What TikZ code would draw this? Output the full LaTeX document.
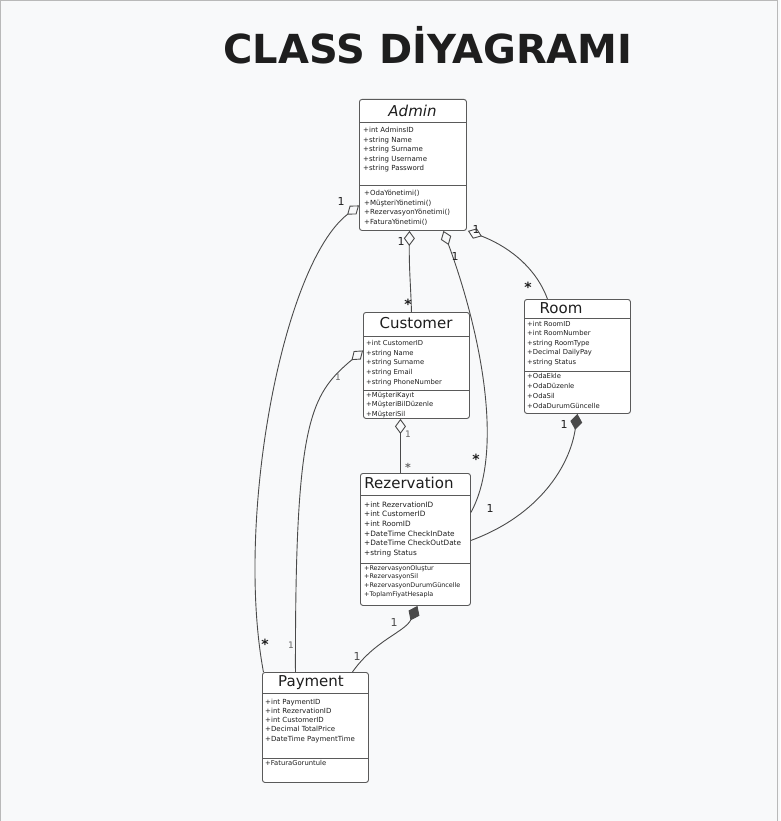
\documentclass[tikz,border=0pt]{standalone}
\usepackage{fontspec}
\setmainfont{DejaVu Sans}
\usetikzlibrary{arrows.meta}
\definecolor{bg}{HTML}{F8F9FA}
\definecolor{ln}{HTML}{4A4A4A}
\definecolor{bx}{HTML}{5A5A5A}
\definecolor{tx}{HTML}{1E1E1E}
\definecolor{lb}{HTML}{666666}
\begin{document}
\begin{tikzpicture}[x=1pt,y=-1pt,
  classbox/.style={draw=bx, fill=white, rounded corners=2.5pt, line width=0.9pt, inner sep=0, anchor=north west},
  sepline/.style={draw=bx, line width=0.7pt},
  ctitle/.style={font=\fontsize{15}{15}\selectfont, text=tx, inner sep=0},
  attr/.style={anchor=north west, inner sep=0, align=left, text=tx},
  conn/.style={draw=ln, line width=0.9pt},
  agg/.style={{Diamond[open,length=15pt,width=11pt,line width=0.9pt]}-},
  comp/.style={{Diamond[length=16pt,width=12pt]}-},
  mult/.style={font=\fontsize{11}{11}\selectfont, text=tx, inner sep=0},
  star/.style={font=\bfseries\fontsize{14}{14}\selectfont, text=tx, inner sep=0, yshift=-3pt},
  multg/.style={font=\fontsize{9}{9}\selectfont, text=lb, inner sep=0},
  starg/.style={font=\bfseries\fontsize{11}{11}\selectfont, text=lb, inner sep=0, yshift=-2.5pt}]
\useasboundingbox (0,0) rectangle (780,821);
\fill[bg] (0,0) rectangle (780,821);
\draw[gray!55, line width=1pt] (0.5,821) -- (0.5,0.5) -- (777.5,0.5) -- (777.5,821);

% title
\node[font=\bfseries\fontsize{40}{40}\selectfont, text=tx, inner sep=0] (title) at (428,45) {CLASS DİYAGRAMI};

% Admin
\node[classbox, minimum width=107pt, minimum height=131pt] (admin) at (359,99) {};
\node[ctitle, font=\itshape\fontsize{15}{15}\selectfont] (admint) at (412.5,111) {Admin};
\draw[sepline] (359,122) -- (466,122);
\node[attr, font=\fontsize{7}{9.5}\selectfont] (admina) at (363,127) {+int AdminsID\\+string Name\\+string Surname\\+string Username\\+string Password};
\draw[sepline] (359,185) -- (466,185);
\node[attr, font=\fontsize{7}{9.5}\selectfont] (adminm) at (364,190) {+OdaYönetimi()\\+MüşteriYönetimi()\\+RezervasyonYönetimi()\\+FaturaYönetimi()};

% Customer
\node[classbox, minimum width=106pt, minimum height=106pt] (customer) at (363,312) {};
\node[ctitle] (customert) at (416,323) {Customer};
\draw[sepline] (363,336) -- (469,336);
\node[attr, font=\fontsize{6.8}{9.7}\selectfont] (customera) at (366,340) {+int CustomerID\\+string Name\\+string Surname\\+string Email\\+string PhoneNumber};
\draw[sepline] (363,390) -- (469,390);
\node[attr, font=\fontsize{6.8}{9.5}\selectfont] (customerm) at (366,392) {+MüşteriKayıt\\+MüşteriBilDüzenle\\+MüşteriSil};

% Room
\node[classbox, minimum width=106pt, minimum height=114pt] (room) at (524,299) {};
\node[ctitle] (roomt) at (561,308) {Room};
\draw[sepline] (524,318) -- (630,318);
\node[attr, font=\fontsize{6.8}{9.5}\selectfont] (rooma) at (527,321) {+int RoomID\\+int RoomNumber\\+string RoomType\\+Decimal DailyPay\\+string Status};
\draw[sepline] (524,371) -- (630,371);
\node[attr, font=\fontsize{6.8}{10}\selectfont] (roomm) at (527,373.5) {+OdaEkle\\+OdaDüzenle\\+OdaSil\\+OdaDurumGüncelle};

% Rezervation
\node[classbox, minimum width=110pt, minimum height=132pt] (rez) at (360,473) {};
\node[ctitle] (rezt) at (409,483) {Rezervation};
\draw[sepline] (360,495) -- (470,495);
\node[attr, font=\fontsize{7.3}{9.6}\selectfont] (reza) at (364,501.5) {+int RezervationID\\+int CustomerID\\+int RoomID\\+DateTime CheckInDate\\+DateTime CheckOutDate\\+string Status};
\draw[sepline] (360,563) -- (470,563);
\node[attr, font=\fontsize{6.4}{8.8}\selectfont] (rezm) at (364,565) {+RezervasyonOluştur\\+RezervasyonSil\\+RezervasyonDurumGüncelle\\+ToplamFiyatHesapla};

% Payment
\node[classbox, minimum width=106pt, minimum height=110pt] (payment) at (262,672) {};
\node[ctitle] (paymentt) at (311,683) {Payment};
\draw[sepline] (262,693) -- (368,693);
\node[attr, font=\fontsize{7}{9.3}\selectfont] (paymenta) at (265,698.5) {+int PaymentID\\+int RezervationID\\+int CustomerID\\+Decimal TotalPrice\\+DateTime PaymentTime};
\draw[sepline] (262,758) -- (368,758);
\node[attr, font=\fontsize{6.8}{9.5}\selectfont] (paymentm) at (265,760) {+FaturaGoruntule};

% connectors
\draw[conn, agg] ([yshift=-40.5pt]admin.west) .. controls (282,265) and (235,520) .. ([xshift=-52pt]payment.north);
\draw[conn, agg] ([xshift=-3.5pt]admin.south) .. controls (409,270) and (411,290) .. ([xshift=-5pt]customer.north);
\draw[conn, agg] ([xshift=30.5pt]admin.south) .. controls (480,330) and (505,450) .. ([yshift=27pt]rez.east);
\draw[conn, agg] ([xshift=1pt]admin.south east) .. controls (505,245) and (535,265) .. ([xshift=-30pt]room.north);
\draw[conn, agg] ([xshift=-16pt]customer.south) -- ([xshift=-15pt]rez.north);
\draw[conn, agg] ([yshift=15pt]customer.west) .. controls (310,395) and (295,420) .. ([xshift=-20pt]payment.north);
\draw[conn, comp] (room.south) .. controls (570,465) and (540,515) .. ([yshift=-1pt]rez.east);
\draw[conn, comp] ([xshift=2pt]rez.south) .. controls (405,632) and (375,640) .. ([xshift=37pt]payment.north);

% multiplicities
\node[mult] (m1) at (341,201) {1};
\node[star] (m2) at (265,641) {*};
\node[mult] (m3) at (401,241) {1};
\node[star] (m4) at (408,301) {*};
\node[mult] (m5) at (455,256) {1};
\node[star] (m6) at (476,456) {*};
\node[mult] (m7) at (476,229) {1};
\node[star] (m8) at (528,284) {*};
\node[multg] (m9) at (408,434) {1};
\node[starg] (m10) at (408,465) {*};
\node[multg] (m11) at (338,377) {1};
\node[multg] (m12) at (291,645) {1};
\node[mult] (m13) at (564,424) {1};
\node[mult] (m14) at (490,508) {1};
\node[mult, text=ln] (m15) at (394,622) {1};
\node[mult, text=ln] (m16) at (357,656) {1};
\end{tikzpicture}
\end{document}
